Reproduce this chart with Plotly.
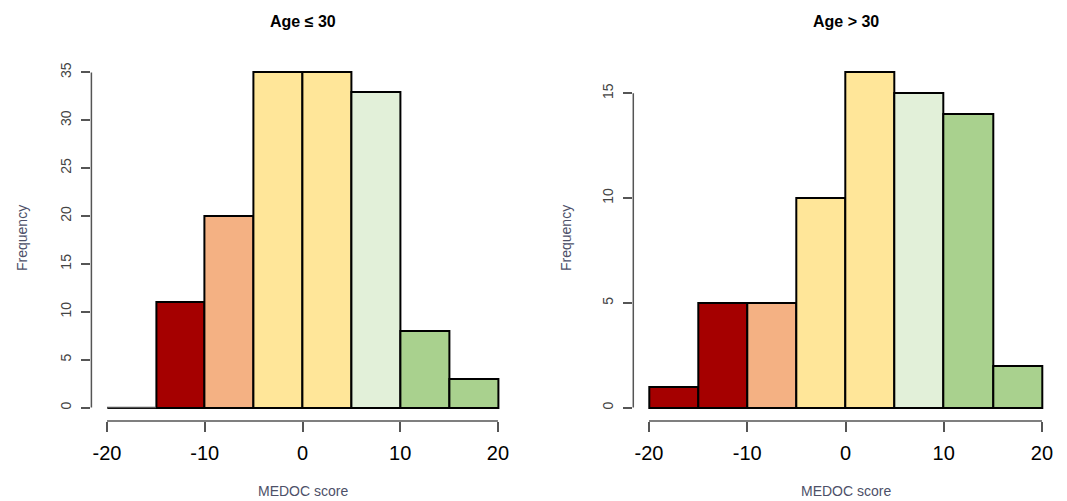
import plotly.graph_objects as go

# Histogram bins of MEDOC score (bin centres, width 5)
bin_centers = [-17.5, -12.5, -7.5, -2.5, 2.5, 7.5, 12.5, 17.5]
bin_colors = ["#A50000", "#A50000", "#F4B183", "#FFE699", "#FFE699",
              "#E2F0D9", "#A9D18E", "#A9D18E"]

# Frequencies per group
freq_young = [0, 11, 20, 35, 35, 33, 8, 3]   # Age <= 30
freq_old = [1, 5, 5, 10, 16, 15, 14, 2]      # Age > 30

x_ticks = [-20, -10, 0, 10, 20]
x_tick_text = ["-20", "-10", "0", "10", "20"]
y_ticks_young = [0, 5, 10, 15, 20, 25, 30, 35]
y_ticks_old = [0, 5, 10, 15]

titles = ["Age ≤ 30", "Age > 30"]

W, H = 1067, 501
x_dom_left = [91.4 / W, 513.6 / W]
x_dom_right = [633.3 / W, 1057.7 / W]
y_dom = [(H - 421) / H, (H - 59) / H]

fig = go.Figure()

for freqs, xa, ya in [(freq_young, "x", "y"), (freq_old, "x2", "y2")]:
    colors = [c if f > 0 else "rgba(0,0,0,0)" for c, f in zip(bin_colors, freqs)]
    fig.add_trace(go.Bar(
        x=bin_centers, y=freqs, width=5,
        marker=dict(color=colors, line=dict(color="black", width=2)),
        xaxis=xa, yaxis=ya, showlegend=False, hoverinfo="x+y",
    ))

axis_common_x = dict(
    range=[-21.6, 21.6], tickvals=x_ticks, ticktext=x_tick_text,
    ticks="outside", ticklen=10, ticklabelstandoff=4,
    tickwidth=1.5, tickcolor="#555555", showline=False, showgrid=False,
    zeroline=False, tickfont=dict(family="Liberation Sans, Arial", size=20, color="black"),
)
axis_common_y = dict(
    ticks="outside", ticklen=9, tickwidth=1.5, tickcolor="#555555",
    showline=False, showgrid=False, zeroline=False, tickangle=-90,
    ticklabelstandoff=5,
    tickfont=dict(family="Liberation Sans, Arial", size=14, color="#444444"),
)

fig.update_layout(
    width=W, height=H, margin=dict(l=0, r=0, t=0, b=0),
    paper_bgcolor="white", plot_bgcolor="white", bargap=0,
    xaxis=dict(domain=x_dom_left, anchor="y", **axis_common_x),
    yaxis=dict(domain=y_dom, anchor="x", range=[-1.4, 36.4],
               tickvals=y_ticks_young, **axis_common_y),
    xaxis2=dict(domain=x_dom_right, anchor="y2", **axis_common_x),
    yaxis2=dict(domain=y_dom, anchor="x2", range=[-0.64, 16.64],
                tickvals=y_ticks_old, **axis_common_y),
)

# R-style axis lines spanning only the tick range
shapes = []
for xa, ya, dom, yt in [("x", "y", x_dom_left, y_ticks_young),
                         ("x2", "y2", x_dom_right, y_ticks_old)]:
    shapes.append(dict(type="line", xref=xa, yref="paper",
                       x0=x_ticks[0], x1=x_ticks[-1], y0=y_dom[0], y1=y_dom[0],
                       line=dict(color="#555555", width=1.5)))
    shapes.append(dict(type="line", xref="paper", yref=ya,
                       x0=dom[0], x1=dom[0], y0=yt[0], y1=yt[-1],
                       line=dict(color="#555555", width=1.5)))
    # zero-count bins drawn as a flat baseline
    freqs = freq_young if xa == "x" else freq_old
    for c, f in zip(bin_centers, freqs):
        if f == 0:
            shapes.append(dict(type="line", xref=xa, yref=ya,
                               x0=c - 2.5, x1=c + 2.5, y0=0, y1=0,
                               line=dict(color="#555555", width=1.5)))
fig.update_layout(shapes=shapes)

annotations = []
for title, dom in zip(titles, [x_dom_left, x_dom_right]):
    cx = (dom[0] + dom[1]) / 2
    annotations.append(dict(text="<b>" + title + "</b>", x=cx, y=(H - 21) / H,
                            xref="paper", yref="paper", showarrow=False,
                            xanchor="center", yanchor="middle",
                            font=dict(family="Liberation Sans, Arial", size=16, color="black")))
    annotations.append(dict(text="MEDOC score", x=cx, y=(H - 491) / H,
                            xref="paper", yref="paper", showarrow=False,
                            xanchor="center", yanchor="middle",
                            font=dict(family="Liberation Sans, Arial", size=14, color="#4d5068")))
for xpix in [22, 566]:
    annotations.append(dict(text="Frequency", x=xpix / W, y=(H - 238) / H,
                            xref="paper", yref="paper", showarrow=False, textangle=-90,
                            xanchor="center", yanchor="middle",
                            font=dict(family="Liberation Sans, Arial", size=14, color="#4d5068")))
fig.update_layout(annotations=annotations)

fig.write_html("out.html")
